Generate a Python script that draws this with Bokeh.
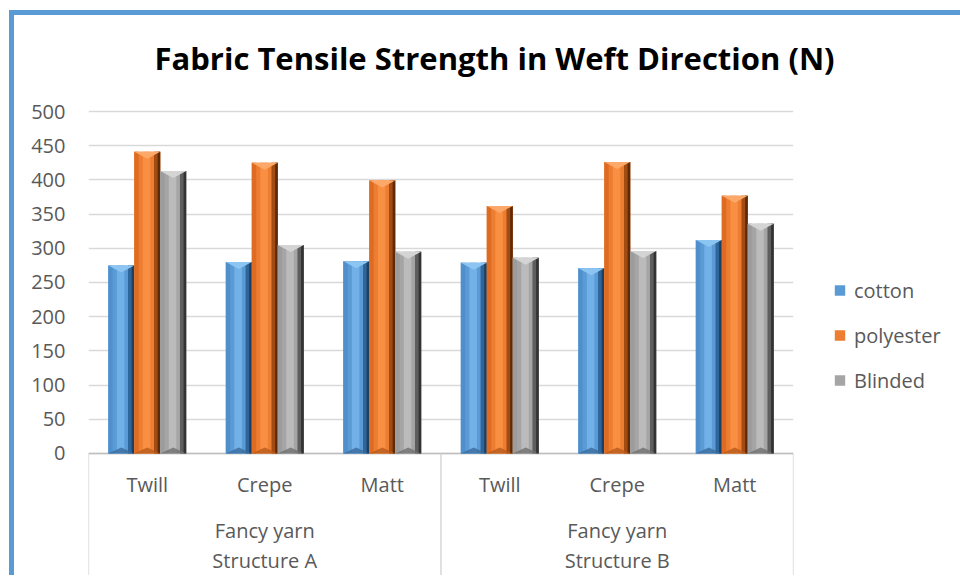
from bokeh.plotting import figure
from bokeh.models import Range1d, FixedTicker, Legend, LegendItem, Title
from bokeh.core.properties import value
from bokeh.embed import file_html
from bokeh.resources import INLINE

# ---------------- data ----------------
categories = ["Twill", "Crepe", "Matt", "Twill", "Crepe", "Matt"]
group_labels = ["Fancy yarn\nStructure A", "Fancy yarn\nStructure B"]
group_sizes = [3, 3]
series_names = ["cotton", "polyester", "Blinded"]
cotton = [275, 280, 281, 279, 271, 312]
polyester = [441, 425, 399, 362, 426, 377]
blinded = [413, 305, 295, 286, 296, 336]
y_ticks = [0, 50, 100, 150, 200, 250, 300, 350, 400, 450, 500]
title_text = "Fabric Tensile Strength in Weft Direction (N)"

series_values = [cotton, polyester, blinded]

# ---------------- style ----------------
FONT = "Open Sans"
TXT = "#595959"
# base, left bevel, highlight, right bevel, far right, top cap, bottom bevel
shades = [
    ["#5B9BD5", "#4F8FCB", "#72B0E8", "#2F6598", "#1C3F63", "#8CC4F2", "#3A6C9E"],
    ["#ED7D31", "#DD6C22", "#F98F42", "#A24B12", "#5E2A08", "#FBA868", "#B85A1C"],
    ["#A5A5A5", "#9C9C9C", "#BBBBBB", "#5E5E5E", "#333333", "#D4D4D4", "#707070"],
]

FW, FH = 705, 480
ML, MR, MT, MB = 74, 150, 80, 0
y_top, y_bot = 523.4, -178.4

n = len(categories)
p = figure(frame_width=FW, frame_height=FH, x_range=Range1d(0, n), y_range=Range1d(y_bot, y_top),
           output_backend="svg", toolbar_location=None, x_axis_location=None,
           min_border_left=ML, min_border_right=MR, min_border_top=MT, min_border_bottom=MB)
p.styles = {"border-left": "5px solid #5B9BD5", "border-top": "5px solid #5B9BD5",
            "margin-left": "9px", "margin-top": "10px"}
p.outline_line_color = None
p.background_fill_color = "white"
p.border_fill_color = "white"

p.title = Title(text=title_text, align="left", text_font=FONT, text_font_size="31px",
                text_font_style="bold", text_color="black", offset=66, standoff=34)

ya = p.yaxis[0]
ya.ticker = FixedTicker(ticks=y_ticks)
ya.axis_line_color = None
ya.major_tick_line_color = None
ya.minor_tick_line_color = None
ya.major_tick_out = 0
ya.major_tick_in = 0
ya.major_label_standoff = 23
ya.major_label_text_font = FONT
ya.major_label_text_font_size = "20px"
ya.major_label_text_color = TXT

p.xgrid.visible = False
p.ygrid.ticker = FixedTicker(ticks=y_ticks)
p.ygrid.grid_line_color = "#D9D9D9"
p.ygrid.grid_line_width = 1.5

px_x = n / FW
px_y = (y_top - y_bot) / FH

# baseline and separators
p.segment(x0=[0], x1=[n], y0=[0], y1=[0], line_color="#BFBFBF", line_width=1.3)
sep_x = [0]
for g in group_sizes:
    sep_x.append(sep_x[-1] + g)
p.segment(x0=sep_x, x1=sep_x, y0=[0] * len(sep_x), y1=[y_bot] * len(sep_x),
          line_color="#D0D0D0", line_width=1.3)

# bars
bar_w = 0.221
offsets = [-bar_w, 0.0, bar_w]
legend_items = []
strips = [(0.0, 0.17, 1), (0.33, 0.62, 2), (0.76, 1.0, 3), (0.9, 1.0, 4)]
cap_h = 7 * px_y
bot_h = 6 * px_y
for s, (name, vals) in enumerate(zip(series_names, series_values)):
    xs_c = [i + 0.5 + offsets[s] for i in range(n)]
    base = p.vbar(x=xs_c, width=bar_w, top=vals, bottom=0, fill_color=shades[s][0], line_color=None)
    legend_items.append(LegendItem(label=name, renderers=[base]))
    for f0, f1, ci in strips:
        sx = [c - bar_w / 2 + bar_w * (f0 + f1) / 2 for c in xs_c]
        p.vbar(x=sx, width=bar_w * (f1 - f0), top=vals, bottom=0, fill_color=shades[s][ci], line_color=None)
    tx, ty, bx, by = [], [], [], []
    for c, v in zip(xs_c, vals):
        l, r = c - bar_w / 2, c + bar_w / 2
        tx.append([l, r, c]); ty.append([v, v, v - cap_h])
        bx.append([l, r, c]); by.append([0, 0, bot_h])
    p.patches(xs=tx, ys=ty, fill_color=shades[s][5], line_color=None)
    p.patches(xs=bx, ys=by, fill_color=shades[s][6], line_color=None, fill_alpha=0.8)

# category labels
cat_y = -44.7
p.text(x=[i + 0.5 for i in range(n)], y=[cat_y] * n, text=categories,
       text_font=value(FONT), text_font_size=value("20px"), text_color=TXT,
       text_align="center", text_baseline="middle")
grp_x = [(sep_x[k] + sep_x[k + 1]) / 2 for k in range(len(group_sizes))]
p.text(x=grp_x, y=[-134.0] * len(grp_x), text=group_labels,
       text_font=value(FONT), text_font_size=value("20px"), text_color=TXT,
       text_align="center", text_baseline="middle", text_line_height=1.12)

legend = Legend(items=legend_items, location="center_left", orientation="vertical",
                glyph_width=13, glyph_height=13, label_text_font=FONT,
                label_text_font_size="20px", label_text_color=TXT, label_standoff=8,
                label_height=27, spacing=18, margin=40, padding=10,
                border_line_color=None, background_fill_alpha=0)
p.add_layout(legend, "right")

open("out.html", "w").write(file_html(p, INLINE))
